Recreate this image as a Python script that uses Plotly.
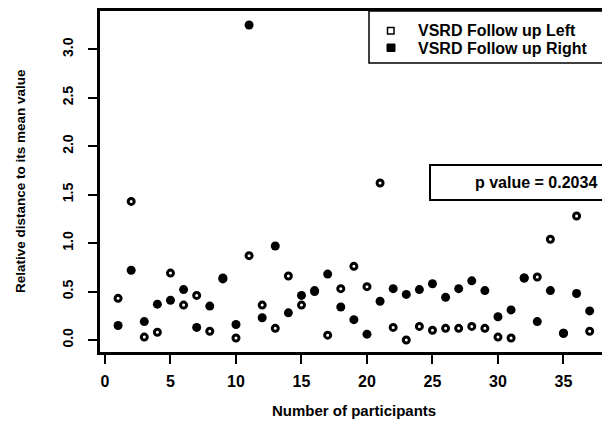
import plotly.graph_objects as go

participants = list(range(1, 38))
left_vals = [0.43, 1.43, 0.03, 0.08, 0.69, 0.36, 0.46, 0.09, 0.64, 0.02,
             0.87, 0.36, 0.12, 0.66, 0.36, 0.50, 0.05, 0.53, 0.76, 0.55,
             1.62, 0.13, 0.00, 0.14, 0.10, 0.12, 0.12, 0.14, 0.12, 0.03,
             0.02, 0.64, 0.65, 1.04, 0.07, 1.28, 0.09]
right_vals = [0.15, 0.72, 0.19, 0.37, 0.41, 0.52, 0.13, 0.35, 0.63, 0.16,
              3.25, 0.23, 0.97, 0.28, 0.46, 0.51, 0.68, 0.34, 0.21, 0.06,
              0.40, 0.53, 0.47, 0.52, 0.58, 0.44, 0.53, 0.61, 0.51, 0.24,
              0.31, 0.64, 0.19, 0.51, 0.07, 0.48, 0.30]
x_ticks = [0, 5, 10, 15, 20, 25, 30, 35]
y_ticks = [0.0, 0.5, 1.0, 1.5, 2.0, 2.5, 3.0]
y_tick_text = ["0.0", "0.5", "1.0", "1.5", "2.0", "2.5", "3.0"]
legend_labels = ["VSRD Follow up Left", "VSRD Follow up Right"]
p_text = "p value = 0.2034"
x_title = "Number of participants"
y_title = "Relative distance to its mean value"

W, H = 602, 423
L, R, T, B = 100, 602, 11, 352
FONT = "Liberation Sans"


def px(xp):
    return (xp - L) / (R - L)


def py(yp):
    return (B - yp) / (B - T)


fig = go.Figure()
fig.add_trace(go.Scatter(
    x=participants, y=left_vals, mode="markers", name=legend_labels[0],
    marker=dict(symbol="circle", size=6, color="white",
                line=dict(color="black", width=3)),
    showlegend=False))
fig.add_trace(go.Scatter(
    x=participants, y=right_vals, mode="markers", name=legend_labels[1],
    marker=dict(symbol="circle", size=9, color="black",
                line=dict(color="black", width=0)),
    showlegend=False))

shapes = []
# legend box
shapes.append(dict(type="rect", xref="paper", yref="paper",
                   x0=px(369), x1=px(640), y0=py(63), y1=py(11),
                   line=dict(color="black", width=1.5), fillcolor="white"))
shapes.append(dict(type="rect", xref="paper", yref="paper",
                   x0=px(387.5), x1=px(394), y0=py(34), y1=py(27.5),
                   line=dict(color="black", width=1.5), fillcolor="white"))
shapes.append(dict(type="rect", xref="paper", yref="paper",
                   x0=px(387), x1=px(395), y0=py(51.5), y1=py(44),
                   line=dict(color="black", width=1), fillcolor="black"))
# p value box
shapes.append(dict(type="rect", xref="paper", yref="paper",
                   x0=px(430), x1=px(640), y0=py(200), y1=py(165),
                   line=dict(color="black", width=2), fillcolor="white"))

annotations = [
    dict(text="<b>" + legend_labels[0] + "</b>", xref="paper", yref="paper",
         x=px(416), y=py(31), xanchor="left", yanchor="middle", showarrow=False,
         font=dict(family=FONT, size=16, color="black")),
    dict(text="<b>" + legend_labels[1] + "</b>", xref="paper", yref="paper",
         x=px(416), y=py(48), xanchor="left", yanchor="middle", showarrow=False,
         font=dict(family=FONT, size=16, color="black")),
    dict(text="<b>" + p_text + "</b>", xref="paper", yref="paper",
         x=px(599), y=py(182.5), xanchor="right", yanchor="middle",
         showarrow=False, font=dict(family=FONT, size=16, color="black")),
    dict(text="<b>" + x_title + "</b>", xref="paper", yref="paper",
         x=px(354), y=py(410), xanchor="center", yanchor="middle",
         showarrow=False, font=dict(family=FONT, size=15, color="black")),
    dict(text="<b>" + y_title + "</b>", xref="paper", yref="paper",
         x=px(20), y=py(181), xanchor="center", yanchor="middle",
         showarrow=False, textangle=-90,
         font=dict(family=FONT, size=13.5, color="black")),
]

fig.update_layout(
    width=W, height=H,
    margin=dict(l=L, r=W - R, t=T, b=H - B, pad=0, autoexpand=False),
    paper_bgcolor="white", plot_bgcolor="white",
    shapes=shapes, annotations=annotations,
    xaxis=dict(range=[-0.38, 37.94], tickvals=x_ticks, automargin=False,
               showgrid=False, zeroline=False,
               showline=True, linecolor="black", linewidth=2.5, mirror=True,
               ticks="outside", ticklen=9, tickwidth=1.5, tickcolor="black",
               ticklabelstandoff=4,
               tickfont=dict(family=FONT, size=16, color="black",
                             weight="bold")),
    yaxis=dict(range=[-0.124, 3.395], tickvals=y_ticks, ticktext=y_tick_text,
               automargin=False,
               showgrid=False, zeroline=False,
               showline=True, linecolor="black", linewidth=2.5,
               ticks="outside", ticklen=9, tickwidth=1.5, tickcolor="black",
               tickangle=-90, ticklabelstandoff=10,
               tickfont=dict(family=FONT, size=14, color="black",
                             weight="bold")),
)

fig.write_html("out.html",
               config={"displayModeBar": False},
               post_script="document.body.style.margin='0';"
                           "document.body.style.padding='0';"
                           "document.body.style.overflow='hidden';")
